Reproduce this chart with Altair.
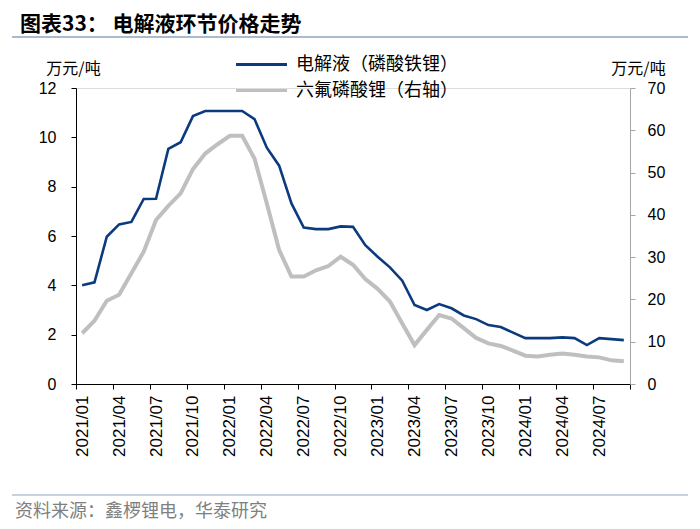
import json
import altair as alt
import pandas as pd

months = [f"{y}/{m:02d}" for y in (2021, 2022, 2023, 2024) for m in range(1, 13)][:45]
tick_labels = ["2021/01", "2021/04", "2021/07", "2021/10", "2022/01", "2022/04", "2022/07",
               "2022/10", "2023/01", "2023/04", "2023/07", "2023/10", "2024/01", "2024/04", "2024/07"]
s1 = "电解液（磷酸铁锂）"
s2 = "六氟磷酸锂（右轴）"
electrolyte = [4.0, 4.12, 5.97, 6.47, 6.57, 7.5, 7.51, 9.53, 9.8, 10.86,
               11.07, 11.07, 11.07, 11.07, 10.74, 9.58, 8.85, 7.32, 6.34, 6.28,
               6.28, 6.39, 6.37, 5.63, 5.16, 4.73, 4.19, 3.2, 3.0, 3.24,
               3.07, 2.78, 2.63, 2.39, 2.31, 2.08, 1.86, 1.86, 1.86, 1.89,
               1.86, 1.58, 1.86, 1.82, 1.78]
lipf6 = [12.0, 14.97, 19.7, 21.1, 26.2, 31.3, 38.8, 42.1, 45.1, 50.8,
         54.5, 56.7, 58.7, 58.7, 53.3, 42.7, 31.7, 25.4, 25.4, 26.9,
         27.9, 30.1, 28.2, 24.8, 22.5, 19.5, 14.3, 9.2, 12.8, 16.3,
         15.5, 13.2, 10.9, 9.6, 9.0, 7.9, 6.7, 6.5, 6.9, 7.2,
         6.9, 6.5, 6.3, 5.6, 5.4]
title_text = "图表33： 电解液环节价格走势"
source_text = "资料来源：鑫椤锂电，华泰研究"
unit_text = "万元/吨"

BLUE = "#0b3b7e"
GRAY = "#bfbfbf"
CJK = "Noto Sans CJK SC"
LAT = "Liberation Sans"

rows = []
for i, m in enumerate(months):
    rows.append({"idx": i, "month": m, "series": s1, "value": electrolyte[i]})
    rows.append({"idx": i, "month": m, "series": s2, "value": lipf6[i]})
df = pd.DataFrame(rows)

W, H = 554, 296

x_enc = alt.X(
    "xpos:Q",
    scale=alt.Scale(domain=[0, 45], nice=False, zero=False),
    axis=alt.Axis(
        values=list(range(0, 46, 3)),
        labelExpr=f"datum.value < 45 ? {json.dumps(tick_labels)}[datum.value / 3] : ''",
        labelAngle=270, labelAlign="right", labelBaseline="middle",
        labelOffset=6.15, labelPadding=6, tickSize=5,
        labelFlush=False, labelOverlap=False, labelBound=False,
        labelFont=LAT, labelFontSize=17, labelColor="#000",
        domainColor="#000", tickColor="#000", grid=False, title=None,
    ),
)

color_enc = alt.Color(
    "series:N",
    scale=alt.Scale(domain=[s1, s2], range=[BLUE, GRAY]),
    legend=alt.Legend(
        title=None, orient="none", legendX=175, legendY=-34,
        symbolType="M-3,0H3", symbolSize=289, symbolStrokeWidth=3.2,
        labelFont=CJK, labelFontSize=18, labelColor="#000", labelOffset=24,
        labelLimit=400, rowPadding=6, direction="vertical",
    ),
)

base = alt.Chart(df).transform_calculate(xpos="datum.idx + 0.5")

left = base.transform_filter(alt.datum.series == s1).mark_line(strokeWidth=2.6).encode(
    x=x_enc,
    y=alt.Y("value:Q", scale=alt.Scale(domain=[0, 12], nice=False),
            axis=alt.Axis(orient="left", values=list(range(0, 13, 2)), tickSize=5,
                          labelPadding=15, labelFont=LAT, labelFontSize=16, labelColor="#000",
                          domainColor="#000", tickColor="#000", grid=False,
                          title=unit_text, titleAngle=0, titleX=-3, titleY=-20,
                          titleAlign="center", titleBaseline="middle",
                          titleFont=CJK, titleFontSize=16, titleFontWeight="normal",
                          titleColor="#000")),
    color=color_enc,
)

right = base.transform_filter(alt.datum.series == s2).mark_line(strokeWidth=4).encode(
    x=x_enc,
    y=alt.Y("value:Q", scale=alt.Scale(domain=[0, 70], nice=False),
            axis=alt.Axis(orient="right", values=list(range(0, 71, 10)), tickSize=5,
                          labelPadding=12, labelFont=LAT, labelFontSize=16, labelColor="#000",
                          domainColor="#a6a6a6", tickColor="#a6a6a6", grid=False,
                          title=unit_text, titleAngle=0, titleX=8, titleY=-20,
                          titleAlign="center", titleBaseline="middle",
                          titleFont=CJK, titleFontSize=16, titleFontWeight="normal",
                          titleColor="#000")),
    color=color_enc,
)

src = pd.DataFrame({"t": [source_text]})
footer = alt.Chart(src).mark_text(align="left", baseline="middle", font=CJK, fontSize=18,
                                  color="#7f7f7f").encode(
    x=alt.value(-61), y=alt.value(424), text="t:N")

rule_df = pd.DataFrame({"k": [0]})
rule_top = alt.Chart(rule_df).mark_rule(color="#8fa3c2", strokeWidth=1.5).encode(
    x=alt.value(-64), x2=alt.value(612), y=alt.value(-51))
rule_bot = alt.Chart(rule_df).mark_rule(color="#8fa3c2", strokeWidth=1.2).encode(
    x=alt.value(-64), x2=alt.value(612), y=alt.value(407))

chart = alt.layer(left, right, footer, rule_top, rule_bot).resolve_scale(
    y="independent"
).properties(
    title=alt.TitleParams(title_text, anchor="start", frame="group", orient="top",
                          font=CJK, fontSize=21, fontWeight="bold", color="#000",
                          baseline="bottom", offset=0, dx=-56, dy=20),
    width=W, height=H,
    autosize=alt.AutoSizeParams(type="none"),
    padding={"left": 68, "top": 80, "right": 62, "bottom": 137},
).configure_view(stroke=None).configure(background="white")

chart.save("out.html", embed_options={"renderer": "svg", "actions": False})
